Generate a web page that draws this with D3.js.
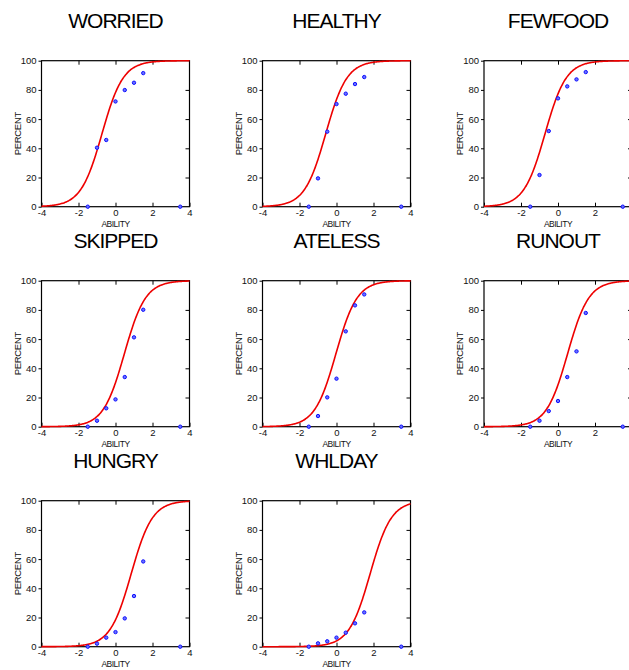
<!DOCTYPE html>
<html>
<head>
<meta charset="utf-8">
<script src="https://cdn.jsdelivr.net/npm/d3@7"></script>
<style>
  html, body { margin: 0; padding: 0; background: #fff; overflow: hidden; }
  svg { display: block; }
  text { font-family: Arial, "Liberation Sans", sans-serif; }
</style>
</head>
<body>
<script>
// ---------- DATA ----------
const items = ["WORRIED", "HEALTHY", "FEWFOOD", "SKIPPED", "ATELESS", "RUNOUT", "HUNGRY", "WHLDAY"];
const abilityPoints = [-1.5, -1, -0.5, 0, 0.5, 1, 1.5, 3.5];
const worried = [0, 40.4, 45.7, 72.1, 79.9, 84.9, 91.5, 0];
const healthy = [0, 19.4, 51.4, 70.3, 77.4, 84.0, 88.8, 0];
const fewfood = [0, 21.7, 51.8, 74.2, 82.4, 87.2, 92.2, 0];
const skipped = [0, 4.1, 12.6, 18.7, 34.0, 61.2, 80.1, 0];
const ateless = [0, 7.3, 20.1, 32.9, 65.3, 83.1, 90.6, 0];
const runout = [0, 4.1, 10.7, 17.6, 34.0, 51.6, 77.9, 0];
const hungry = [0, 2.1, 6.2, 10.0, 19.4, 34.7, 58.4, 0];
const whlday = [0, 2.3, 3.7, 6.2, 9.6, 16.0, 23.5, 0];
const observed = [worried, healthy, fewfood, skipped, ateless, runout, hungry, whlday];
// item difficulty (logit location) of each model curve, common slope
const difficulty = [-0.73, -0.58, -0.70, 0.48, -0.03, 0.52, 0.85, 1.82];
const slope = 1.75;
const xTicks = [-4, -2, 0, 2, 4];
const yTicks = [0, 20, 40, 60, 80, 100];
const xDomain = [-4, 4];
const yDomain = [0, 100];

// ---------- LAYOUT ----------
const W = 629, H = 670;
const plotW = 148, plotH = 146;
const colX = [41.5, 262.5, 484];
const rowY = [60.7, 280.7, 500.7];

const svg = d3.select("body").append("svg").attr("width", W).attr("height", H);

const x = d3.scaleLinear().domain(xDomain).range([0, plotW]);
const y = d3.scaleLinear().domain(yDomain).range([plotH, 0]);

const curveXs = d3.range(xDomain[0], xDomain[1] + 1e-9, 0.04);
const line = d3.line().x(d => x(d[0])).y(d => y(d[1])).curve(d3.curveMonotoneX);

items.forEach((name, i) => {
  const col = i % 3, row = Math.floor(i / 3);
  const g = svg.append("g").attr("transform", `translate(${colX[col]},${rowY[row]})`);

  // title
  g.append("text")
    .attr("x", plotW / 2).attr("y", -32.5)
    .attr("text-anchor", "middle")
    .attr("font-size", 21).attr("letter-spacing", -1)
    .attr("fill", "#000")
    .text(name);

  // only tick labels that fall inside the page (the reference's right column loses its "4")
  const visX = xTicks.filter(t => colX[col] + x(t) + 3 <= W);

  // left axis (outward ticks, labels)
  const ax = g.append("g").call(d3.axisLeft(y).tickValues(yTicks).tickSize(3).tickPadding(2));
  // bottom axis (inward ticks, labels)
  const bx = g.append("g").attr("transform", `translate(0,${plotH})`)
    .call(d3.axisBottom(x).tickValues(visX).tickSizeInner(-4).tickSizeOuter(0).tickPadding(3).tickFormat(d => String(d)));
  // top and right inward ticks
  const tx = g.append("g").call(d3.axisTop(x).tickValues(xTicks.slice(1, -1)).tickSizeInner(-4).tickSizeOuter(0).tickFormat(""));
  const rx = g.append("g").attr("transform", `translate(${plotW},0)`)
    .call(d3.axisRight(y).tickValues(yTicks.slice(1, -1)).tickSizeInner(-4).tickSizeOuter(0).tickFormat(""));

  [ax, bx, tx, rx].forEach(a => {
    a.select(".domain").remove();
    a.selectAll("line").attr("stroke", "#000").attr("stroke-width", 1);
    a.selectAll("text").attr("font-size", 9.5).attr("fill", "#111")
      .attr("font-family", 'Arial, "Liberation Sans", sans-serif');
  });

  // frame
  g.append("rect").attr("x", 0).attr("y", 0).attr("width", plotW).attr("height", plotH)
    .attr("fill", "none").attr("stroke", "#000").attr("stroke-width", 1.2);

  // axis titles
  g.append("text")
    .attr("transform", `translate(${-21},${plotH / 2}) rotate(-90)`)
    .attr("text-anchor", "middle").attr("font-size", 9.5).attr("fill", "#111")
    .attr("letter-spacing", -0.3)
    .text("PERCENT");
  g.append("text")
    .attr("x", plotW / 2).attr("y", plotH + 20)
    .attr("text-anchor", "middle").attr("font-size", 8.5).attr("fill", "#111")
    .attr("letter-spacing", -0.5)
    .text("ABILITY");

  // model curve
  const b = difficulty[i];
  const curveData = curveXs.map(t => [t, 100 / (1 + Math.exp(-slope * (t - b)))]);
  g.append("path").datum(curveData)
    .attr("fill", "none").attr("stroke", "#ee0000").attr("stroke-width", 1.6)
    .attr("d", line);

  // observed points
  g.selectAll("circle.pt").data(observed[i].map((v, k) => [abilityPoints[k], v]))
    .join("circle").attr("class", "pt")
    .attr("cx", d => x(d[0])).attr("cy", d => y(d[1]))
    .attr("r", 1.7)
    .attr("fill", "#6a72ff").attr("stroke", "#1010ff").attr("stroke-width", 1);
});
</script>
</body>
</html>
